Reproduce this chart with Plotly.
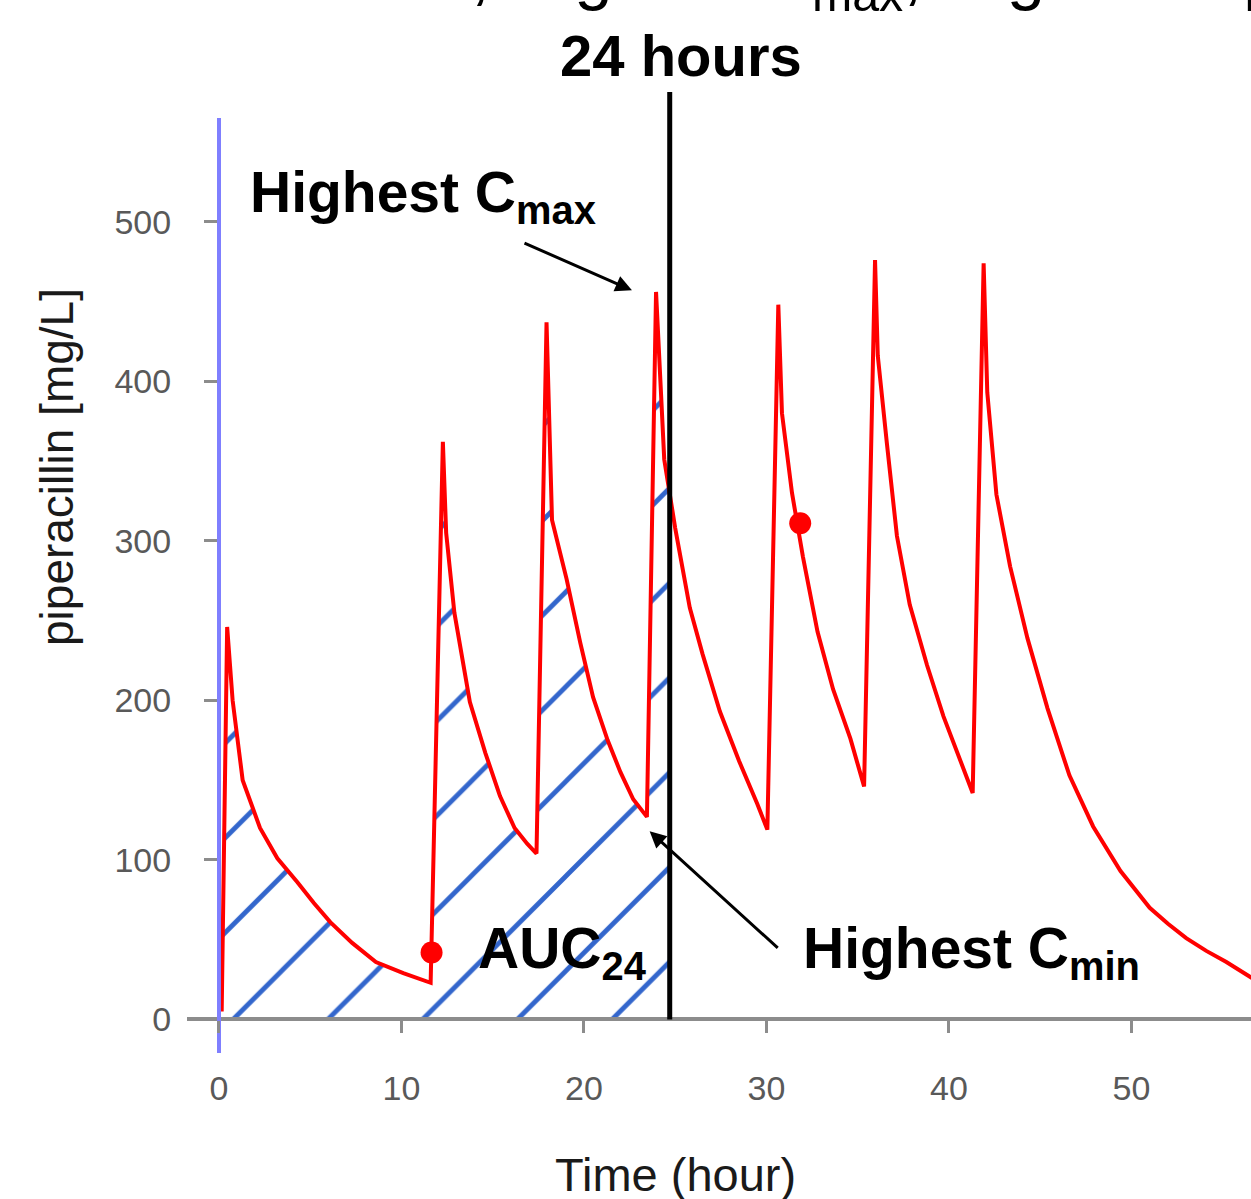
import plotly.graph_objects as go

# ---- data ----
time_h = [0.15, 0.45, 0.75, 1.3, 2.25, 3.2, 4.3, 5.2, 6.1, 7.3, 8.6, 10.1, 11.6,
          12.27, 12.45, 12.9, 13.75, 14.6, 15.4, 16.2, 16.9, 17.4,
          17.95, 18.1, 18.25, 19.05, 19.8, 20.5, 21.3, 22.0, 22.7, 23.45,
          23.95, 24.4, 24.7, 25.0, 25.8, 26.5, 27.45, 28.5, 29.5, 30.05,
          30.65, 30.85, 31.4, 32.0, 32.8, 33.65, 34.6, 35.35,
          35.95, 36.1, 36.6, 37.15, 37.85, 38.8, 39.7, 40.6, 41.3,
          41.9, 42.1, 42.6, 43.35, 44.3, 45.4, 46.6, 47.9, 49.4, 50.2, 51.0,
          52.0, 53.0, 54.1, 55.2, 56.6]
conc_mg_l = [5, 246, 200, 150, 120, 101, 86, 73, 61, 48, 36, 29, 23,
             362, 305, 255, 199, 167, 140, 120, 110, 104,
             437, 375, 313, 276, 236, 202, 175, 155, 138, 127,
             456, 351, 330, 308, 258, 229, 193, 162, 135, 119,
             448, 380, 330, 290, 243, 207, 176, 146,
             476, 416, 361, 303, 260, 222, 190, 162, 142,
             474, 393, 329, 284, 239, 195, 153, 121, 93, 81, 70,
             60, 51, 43, 36, 26]

dot_time = [11.65, 31.85]
dot_conc = [42, 311]

t24_line = 24.7          # the "24 hours" marker line
x_ticks = [0, 10, 20, 30, 40, 50]
y_ticks = [0, 100, 200, 300, 400, 500]

# ---- layout geometry ----
W, H = 1251, 1199
M = dict(l=187, r=0, t=118, b=146)
X_RANGE = [-1.75, 56.55]
Y_RANGE = [-21, 565]


def frac_x(v):
    return (v - X_RANGE[0]) / (X_RANGE[1] - X_RANGE[0])


def frac_y(v):
    return (v - Y_RANGE[0]) / (Y_RANGE[1] - Y_RANGE[0])


def px_x(p):
    return (p - M["l"]) / (W - M["l"] - M["r"])


def px_y(p):
    return (H - M["b"] - p) / (H - M["t"] - M["b"])


auc_t = [t for t in time_h if t <= t24_line]
auc_c = [c for t, c in zip(time_h, conc_mg_l) if t <= t24_line]

FONT = "Liberation Sans, Arial, sans-serif"

fig = go.Figure()

# hatched AUC24 area
fig.add_trace(go.Scatter(
    x=auc_t, y=auc_c, mode="lines", line=dict(width=0),
    fill="tozeroy", fillcolor="rgba(0,0,0,0)",
    fillpattern=dict(shape="/", fgcolor="#3366cc", bgcolor="rgba(0,0,0,0)",
                     fillmode="replace", size=67, solidity=0.072),
    hoverinfo="skip", showlegend=False))

# concentration curve
fig.add_trace(go.Scatter(
    x=time_h, y=conc_mg_l, mode="lines",
    line=dict(color="#ff0000", width=4), showlegend=False))

# red dots
fig.add_trace(go.Scatter(
    x=dot_time, y=dot_conc, mode="markers",
    marker=dict(color="#ff0000", size=22), showlegend=False))

# 24 hours line
fig.add_shape(type="line", xref="x", yref="paper",
              x0=t24_line, x1=t24_line, y0=frac_y(0), y1=px_y(92),
              line=dict(color="black", width=5))

ann = []
ann.append(dict(text="<b>24 hours</b>", xref="x", yref="paper", x=25.3, y=px_y(55),
                xanchor="center", yanchor="middle", showarrow=False,
                font=dict(family=FONT, size=58, color="black")))
ann.append(dict(text="<b>Highest C<sub>max</sub></b>", xref="x", yref="y", x=1.6, y=516,
                xanchor="left", yanchor="middle", showarrow=False,
                font=dict(family=FONT, size=57, color="black")))
ann.append(dict(text="<b>AUC<sub>24</sub></b>", xref="x", yref="y", x=14.1, y=42,
                xanchor="left", yanchor="middle", showarrow=False,
                font=dict(family=FONT, size=57, color="black")))
ann.append(dict(text="<b>Highest C<sub>min</sub></b>", xref="x", yref="y", x=31.9, y=42,
                xanchor="left", yanchor="middle", showarrow=False,
                font=dict(family=FONT, size=57, color="black")))
# arrows
ann.append(dict(text="", x=22.63, y=457, ax=16.66, ay=487, xref="x", yref="y",
                axref="x", ayref="y", showarrow=True, arrowhead=2, arrowsize=1.1,
                arrowwidth=3, arrowcolor="black", standoff=0))
ann.append(dict(text="", x=23.6, y=118, ax=30.7, ay=44, xref="x", yref="y",
                axref="x", ayref="y", showarrow=True, arrowhead=2, arrowsize=1.1,
                arrowwidth=3, arrowcolor="black", standoff=0))
# axis titles
ann.append(dict(text="piperacillin [mg/L]", xref="paper", yref="paper",
                x=px_x(57), y=px_y(467), textangle=-90, showarrow=False,
                xanchor="center", yanchor="middle",
                font=dict(family=FONT, size=46, color="#1a1a1a")))
ann.append(dict(text="Time (hour)", xref="paper", yref="paper",
                x=px_x(675), y=px_y(1174), showarrow=False,
                xanchor="center", yanchor="middle",
                font=dict(family=FONT, size=47, color="#1a1a1a")))
# clipped title at the top edge of the picture
ann.append(dict(text="AUC, Highest C<sub>max</sub>, Highest C<sub>min</sub>",
                xref="paper", yref="paper", x=px_x(323), y=px_y(-22), showarrow=False,
                xanchor="left", yanchor="middle",
                font=dict(family=FONT, size=69, color="black")))

fig.update_layout(
    width=W, height=H, margin=M,
    paper_bgcolor="white", plot_bgcolor="white",
    annotations=ann,
    xaxis=dict(range=X_RANGE, anchor="free", position=frac_y(0),
               showline=True, linecolor="#8c8c8c", linewidth=4,
               ticks="outside", ticklen=12, tickwidth=3, tickcolor="#8c8c8c",
               tickvals=x_ticks, ticklabelstandoff=26,
               tickfont=dict(family=FONT, size=34, color="#595959"),
               showgrid=False, zeroline=False),
    yaxis=dict(range=Y_RANGE, anchor="free", position=frac_x(0),
               showline=True, linecolor="#7f7fff", linewidth=4,
               ticks="outside", ticklen=13, tickwidth=3, tickcolor="#8c8c8c",
               tickvals=y_ticks, ticklabelstandoff=26,
               tickfont=dict(family=FONT, size=34, color="#595959"),
               showgrid=False, zeroline=False),
)

fig.write_html("out.html", config={"displayModeBar": False},
               post_script="document.body.style.margin='0';document.body.style.overflow='hidden';")
